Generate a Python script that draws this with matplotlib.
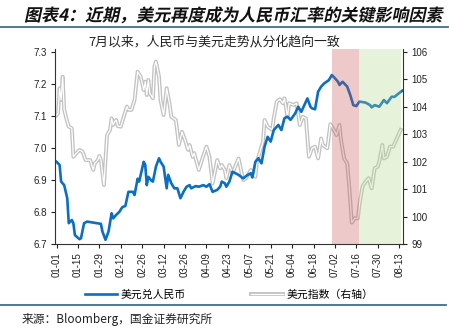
import matplotlib
matplotlib.use('Agg')
import matplotlib.pyplot as plt
import matplotlib.patheffects as pe
import matplotlib.transforms as mtransforms
from matplotlib.textpath import TextPath
from matplotlib.patches import PathPatch
from matplotlib.font_manager import FontProperties
from matplotlib.lines import Line2D
import pandas as pd

plt.rcParams['font.family'] = ['Noto Sans CJK SC', 'DejaVu Sans']
plt.rcParams['axes.unicode_minus'] = False

# USD/CNY (left axis)
cny_dates = ['01-01', '01-03', '01-04', '01-06', '01-08', '01-09', '01-11', '01-12',
             '01-13', '01-16', '01-17', '01-19', '01-21', '01-30', '01-31', '02-02',
             '02-04', '02-06', '02-07', '02-09', '02-11', '02-13', '02-15', '02-17',
             '02-20', '02-21', '02-23', '02-24', '02-26', '02-27', '02-28', '03-01',
             '03-02', '03-04', '03-05', '03-07', '03-09', '03-10', '03-12', '03-14',
             '03-15', '03-17', '03-19', '03-21', '03-23', '03-25', '03-27', '03-29',
             '03-30', '04-02', '04-04', '04-07', '04-09', '04-11', '04-13', '04-16',
             '04-18', '04-19', '04-21', '04-22', '04-24', '04-26', '04-30', '05-03',
             '05-06', '05-08', '05-09', '05-11', '05-13', '05-15', '05-17', '05-19',
             '05-21', '05-23', '05-26', '05-28', '05-30', '06-01', '06-03', '06-06',
             '06-08', '06-10', '06-12', '06-14', '06-16', '06-17', '06-19', '06-21',
             '06-23', '06-25', '06-28', '06-30', '07-02', '07-04', '07-05', '07-07',
             '07-10', '07-12', '07-14', '07-16', '07-18', '07-22', '07-25', '07-26',
             '07-28', '07-31', '08-03', '08-05', '08-08', '08-10', '08-12', '08-15']
cny_values = [6.957, 6.947, 6.895, 6.884, 6.843, 6.765, 6.775, 6.765,
              6.728, 6.715, 6.718, 6.765, 6.770, 6.763, 6.739, 6.713,
              6.739, 6.796, 6.780, 6.791, 6.800, 6.815, 6.819, 6.863,
              6.863, 6.853, 6.904, 6.895, 6.936, 6.957, 6.947, 6.884,
              6.910, 6.898, 6.895, 6.942, 6.968, 6.957, 6.942, 6.874,
              6.916, 6.890, 6.874, 6.874, 6.843, 6.863, 6.879, 6.884,
              6.874, 6.881, 6.879, 6.884, 6.879, 6.887, 6.863, 6.869,
              6.879, 6.895, 6.890, 6.879, 6.895, 6.926, 6.916, 6.905,
              6.916, 6.921, 6.908, 6.957, 6.968, 6.952, 7.004, 7.035,
              7.020, 7.056, 7.072, 7.056, 7.093, 7.098, 7.088, 7.108,
              7.129, 7.113, 7.134, 7.155, 7.129, 7.124, 7.121, 7.176,
              7.192, 7.202, 7.212, 7.228, 7.218, 7.207, 7.197, 7.207,
              7.192, 7.166, 7.134, 7.131, 7.145, 7.142, 7.134, 7.127,
              7.134, 7.129, 7.150, 7.140, 7.160, 7.160, 7.168, 7.179]

# dollar index (right axis)
dxy_dates = ['01-01', '01-02', '01-03', '01-04', '01-05', '01-06', '01-08', '01-09',
             '01-11', '01-12', '01-14', '01-16', '01-18', '01-20', '01-23', '01-25',
             '01-26', '01-28', '01-29', '01-30', '02-01', '02-03', '02-05', '02-06',
             '02-07', '02-08', '02-09', '02-10', '02-12', '02-16', '02-17', '02-19',
             '02-21', '02-23', '02-25', '02-27', '02-28', '03-01', '03-02', '03-03',
             '03-05', '03-06', '03-07', '03-09', '03-10', '03-12', '03-14', '03-16',
             '03-17', '03-20', '03-22', '03-24', '03-26', '03-28', '03-29', '03-31',
             '04-01', '04-04', '04-06', '04-09', '04-11', '04-13', '04-15', '04-16',
             '04-18', '04-19', '04-21', '04-22', '04-24', '04-26', '04-30', '05-03',
             '05-05', '05-08', '05-11', '05-12', '05-14', '05-16', '05-17', '05-19',
             '05-22', '05-23', '05-25', '05-27', '05-29', '05-30', '06-01', '06-02',
             '06-05', '06-07', '06-09', '06-11', '06-13', '06-15', '06-17', '06-19',
             '06-21', '06-23', '06-24', '06-27', '06-29', '07-02', '07-03', '07-05',
             '07-06', '07-08', '07-10', '07-11', '07-12', '07-13', '07-15', '07-17',
             '07-18', '07-20', '07-22', '07-24', '07-26', '07-28', '07-30', '07-31',
             '08-02', '08-03', '08-05', '08-07', '08-09', '08-11', '08-14']
dxy_values = [103.70, 103.76, 104.68, 104.25, 105.10, 103.89, 103.46, 103.28,
              103.22, 102.18, 102.31, 102.43, 102.37, 102.06, 102.06, 101.70,
              101.94, 102.06, 102.21, 102.06, 101.15, 102.97, 103.16, 103.58,
              103.34, 103.46, 103.52, 103.30, 103.28, 104.01, 103.89, 103.89,
              104.25, 105.28, 105.10, 104.61, 104.92, 104.43, 104.98, 104.49,
              104.31, 105.47, 105.65, 105.10, 104.25, 103.70, 104.68, 104.07,
              103.64, 103.52, 102.61, 103.09, 102.79, 102.43, 102.61, 102.18,
              102.31, 101.70, 102.06, 102.55, 102.18, 101.21, 101.76, 102.06,
              101.76, 101.88, 101.70, 101.40, 101.88, 101.58, 102.12, 101.33,
              101.40, 101.70, 101.45, 102.00, 102.37, 102.73, 103.52, 103.28,
              103.16, 103.58, 104.19, 104.28, 104.13, 104.31, 103.64, 104.13,
              104.07, 104.13, 103.34, 103.64, 103.58, 102.18, 102.49, 102.55,
              102.12, 102.85, 102.61, 102.49, 103.37, 103.09, 102.97, 103.34,
              102.79, 102.12, 101.94, 101.33, 100.60, 99.78, 99.94, 99.94,
              100.42, 101.09, 101.27, 101.40, 101.03, 101.76, 101.82, 102.00,
              102.61, 102.12, 102.18, 102.55, 102.55, 102.79, 103.16]

tick_labels = ['01-01', '01-15', '01-29', '02-12', '02-26', '03-12', '03-26', '04-09',
               '04-23', '05-07', '05-21', '06-04', '06-18', '07-02', '07-16', '07-30',
               '08-13']
shade_pink = ('06-30', '07-18')
shade_green = ('07-18', '08-14')

year = '2023-'
def to_dt(lst):
    return pd.to_datetime([year + d for d in lst])

title = '图表4：近期，美元再度成为人民币汇率的关键影响因素'
subtitle = '7月以来，人民币与美元走势从分化趋向一致'
label_cny = '美元兑人民币'
label_dxy = '美元指数（右轴）'
source = '来源：Bloomberg，国金证券研究所'

W, H = 449, 330
fig = plt.figure(figsize=(W / 100, H / 100), dpi=100)
ax1 = fig.add_axes([55 / W, 1 - 244 / H, 348 / W, 195 / H])
ax2 = ax1.twinx()

ax2.plot(to_dt(dxy_dates), dxy_values, color='white', lw=0.9,
         path_effects=[pe.Stroke(linewidth=2.8, foreground='#c2c2c2'), pe.Normal()],
         label=label_dxy)
ax1.plot(to_dt(cny_dates), cny_values, color='#0a6fc2', lw=1.9,
         solid_joinstyle='round', label=label_cny)

p0, p1 = to_dt(shade_pink)
g0, g1 = to_dt(shade_green)
ax1.axvspan(p0, p1, color='#c4504e', alpha=0.3, lw=0, zorder=5)
ax1.axvspan(g0, g1, color='#b0d689', alpha=0.3, lw=0, zorder=5)

ax1.set_zorder(ax2.get_zorder() + 1)
ax1.patch.set_visible(False)

# 7.3 / 106 sit ~3px below the top edge
extra = 3 / 192
ax1.set_ylim(6.7, 7.3 + 0.6 * extra)
ax2.set_ylim(99, 106 + 7 * extra)
ax1.set_yticks([6.7, 6.8, 6.9, 7.0, 7.1, 7.2, 7.3])
ax1.set_yticklabels(['6.7', '6.8', '6.9', '7.0', '7.1', '7.2', '7.3'])
ax2.set_yticks(range(99, 107))

ax1.set_xlim(pd.Timestamp('2022-12-31'), pd.Timestamp('2023-08-15 12:00'))
ax1.set_xticks(to_dt(tick_labels))
ax1.set_xticklabels(tick_labels, rotation=90)

for ax in (ax1, ax2):
    ax.spines['top'].set_visible(False)
    ax.tick_params(labelsize=7, length=3, width=0.8, colors='#222222', pad=3)
    for s in ax.spines.values():
        s.set_linewidth(0.8)
        s.set_color('#333333')
    for lab in ax.get_xticklabels() + ax.get_yticklabels():
        lab.set_fontfamily('Liberation Sans')
ax1.spines['right'].set_visible(False)
ax2.spines['left'].set_visible(False)
ax2.spines['bottom'].set_visible(False)

# title, slanted like the original
fp = FontProperties(family='Noto Sans CJK SC', weight='bold', size=12.25)
tp = TextPath((0, 0), title, prop=fp)
tr = mtransforms.Affine2D().skew_deg(12, 0).scale(1 / 72).translate(24 / 100, (H - 21) / 100) \
    + fig.dpi_scale_trans
fig.add_artist(PathPatch(tp, transform=tr, color='#111111', lw=0))

fig.add_artist(Line2D([0, 448 / W], [1 - 27 / H, 1 - 27 / H], color='#3b6f93', lw=1.3))
fig.add_artist(Line2D([0, 446 / W], [1 - 305 / H, 1 - 305 / H], color='#3b6f93', lw=1.3))

fig.text(214 / W, 1 - 42 / H, subtitle, ha='center', va='center', fontsize=9.3, color='#222222')

h1, l1 = ax1.get_legend_handles_labels()
h2, l2 = ax2.get_legend_handles_labels()
fig.legend(h1 + h2, l1 + l2, loc='center left', bbox_to_anchor=(85 / W, 1 - 295 / H),
           ncol=2, frameon=False, fontsize=7.8, handlelength=2.95, handletextpad=0.35,
           columnspacing=6.0, borderpad=0, borderaxespad=0)

fig.text(22 / W, 1 - 319 / H, source, ha='left', va='center', fontsize=8.5, color='#222222')

fig.savefig('out.png', dpi=100)
